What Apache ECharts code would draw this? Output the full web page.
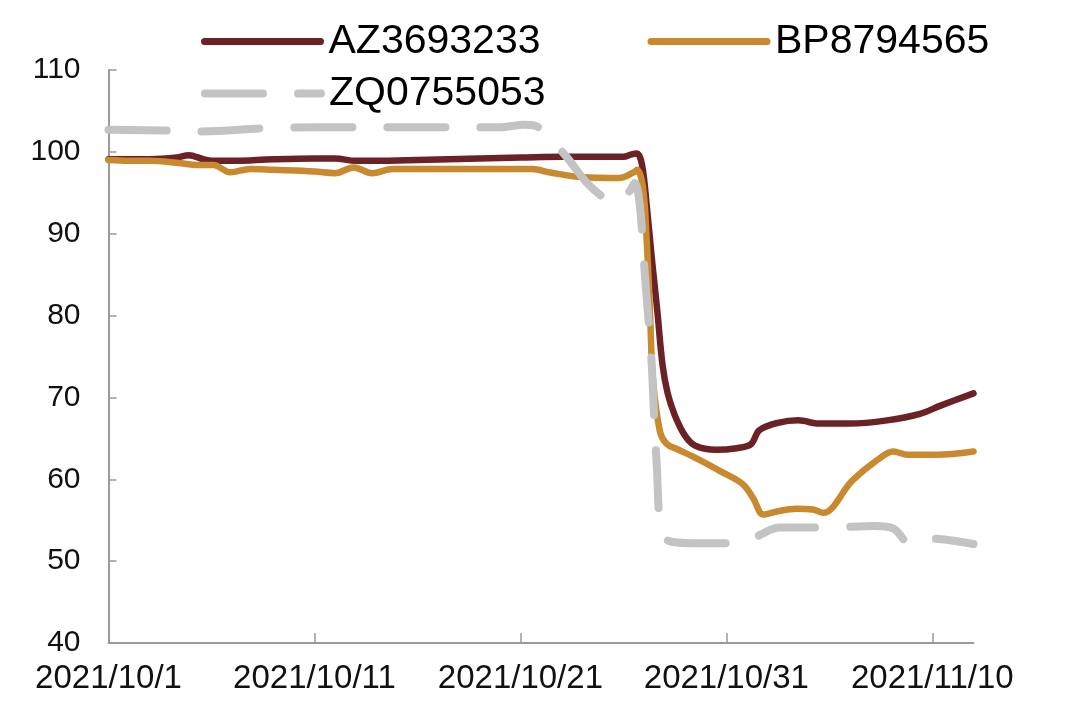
<!DOCTYPE html>
<html>
<head>
<meta charset="utf-8">
<script src="https://cdn.jsdelivr.net/npm/echarts@6/dist/echarts.min.js"></script>
<style>
html,body{margin:0;padding:0;background:#fff;}
#c{width:1080px;height:706px;}
</style>
</head>
<body>
<div id="c"></div>
<script>
// Days counted from 2021/10/1
var startDate = [2021, 10, 1];
var xTickDays = [0, 10, 20, 30, 40];
var seriesNames = ['AZ3693233', 'BP8794565', 'ZQ0755053'];

var azDays = [0, 2, 3.3, 3.9, 4.6, 5, 6, 8, 10, 11, 12, 13, 15, 18, 20, 22, 24, 25, 25.4, 25.65, 25.9, 26.15, 26.4, 26.65, 26.9, 27.15, 27.5, 28, 28.5, 29.5, 30.5, 31.2, 31.6, 32.5, 33.5, 34.5, 36, 37.8, 39.4, 40.4, 42];
var azValues = [99.1, 99.1, 99.3, 99.6, 99.1, 98.9, 98.9, 99.1, 99.2, 99.2, 98.9, 98.9, 99.0, 99.2, 99.3, 99.4, 99.4, 99.4, 99.7, 99.8, 98.5, 93.0, 86.5, 80.5, 74.0, 70.5, 67.8, 65.3, 64.1, 63.6, 63.8, 64.3, 66.0, 66.9, 67.2, 66.8, 66.8, 67.2, 68.0, 69.0, 70.5];

var bpDays = [0, 1, 2, 3.5, 4.3, 5.1, 5.9, 6.9, 8, 10, 11, 11.9, 12.8, 13.8, 16, 20, 20.6, 21.4, 23, 24.8, 25.5, 25.66, 25.95, 26.14, 26.29, 26.43, 26.77, 27.11, 27.6, 28.6, 29.7, 30.8, 31.3, 31.8, 32.5, 33.4, 34.2, 34.7, 36.1, 37.3, 38.1, 38.8, 40.2, 42];
var bpValues = [99.0, 98.9, 98.9, 98.6, 98.4, 98.4, 97.5, 97.9, 97.8, 97.6, 97.4, 98.1, 97.4, 97.9, 97.9, 97.9, 97.9, 97.5, 96.9, 96.8, 97.5, 97.8, 95.7, 88.8, 80.6, 72.4, 65.9, 64.3, 63.7, 62.5, 61.0, 59.4, 57.7, 55.7, 56.1, 56.4, 56.3, 55.9, 59.8, 62.3, 63.4, 63.0, 63.0, 63.4];

var zqDays = [0, 3, 4.4, 7.7, 10, 15, 19, 20.2, 20.7, 21.2, 22.3, 23.2, 24.2, 24.6, 25.3, 25.55, 25.75, 25.95, 26.05, 26.3, 26.4, 26.53, 26.63, 26.77, 27, 27.5, 28.3, 30, 31.1, 31.7, 32.6, 35, 37.2, 38.1, 38.9, 39.7, 42];
var zqValues = [102.7, 102.6, 102.5, 102.9, 103.0, 103.0, 103.0, 103.3, 103.2, 102.3, 99.2, 96.3, 94.1, 93.8, 95.2, 96.2, 94.5, 88.8, 84.7, 77.0, 72.9, 65.6, 61.3, 54.5, 52.8, 52.3, 52.2, 52.2, 52.4, 53.3, 54.1, 54.1, 54.3, 54.0, 52.2, 52.8, 52.1];

function pairs(xs, ys) {
  return xs.map(function (x, i) { return [x, ys[i]]; });
}
function dayLabel(v) {
  var d = new Date(startDate[0], startDate[1] - 1, startDate[2] + v);
  return d.getFullYear() + '/' + (d.getMonth() + 1) + '/' + d.getDate();
}

var FONT = '"Liberation Sans", Arial, sans-serif';
var chart = echarts.init(document.getElementById('c'), null, {renderer: 'canvas'});
var axisColor = '#9a9a9a';
var hiddenSymbol = {color: 'rgba(0,0,0,0)', borderWidth: 0, opacity: 0};

chart.setOption({
  animation: false,
  backgroundColor: '#ffffff',
  textStyle: {fontFamily: FONT},
  legend: [
    {
      data: [seriesNames[0], seriesNames[1]],
      left: 201, top: 21, padding: 0,
      orient: 'horizontal',
      itemWidth: 116, itemHeight: 20, itemGap: 107,
      itemStyle: hiddenSymbol,
      lineStyle: {width: 7},
      textStyle: {fontSize: 41, color: '#000', fontFamily: FONT, padding: [0, 0, 0, 3]}
    },
    {
      data: [seriesNames[2]],
      left: 201, top: 73, padding: 0,
      orient: 'horizontal',
      itemWidth: 116, itemHeight: 20,
      itemStyle: hiddenSymbol,
      lineStyle: {width: 8},
      textStyle: {fontSize: 41, color: '#000', fontFamily: FONT, padding: [0, 0, 0, 3]}
    }
  ],
  grid: {left: 108.5, right: 106.5, top: 70, bottom: 63, containLabel: false},
  xAxis: {
    type: 'value',
    min: 0, max: 42, interval: 10,
    splitLine: {show: false},
    axisLine: {lineStyle: {color: axisColor, width: 2}},
    axisTick: {show: true, inside: true, length: 10, customValues: xTickDays, lineStyle: {color: axisColor, width: 1.5}},
    axisLabel: {
      customValues: xTickDays,
      fontSize: 33, color: '#111', fontFamily: FONT, margin: 19,
      formatter: function (v) { return dayLabel(v); }
    }
  },
  yAxis: {
    type: 'value',
    min: 40, max: 110, interval: 10,
    splitLine: {show: false},
    axisLine: {show: true, lineStyle: {color: axisColor, width: 2}},
    axisTick: {show: true, inside: true, length: 8, lineStyle: {color: axisColor, width: 1.5}},
    axisLabel: {fontSize: 30, color: '#111', fontFamily: FONT, margin: 28}
  },
  series: [
    {
      name: seriesNames[0], type: 'line', symbol: 'none', smooth: 0.35,
      data: pairs(azDays, azValues),
      lineStyle: {color: '#6B2226', width: 6.5, cap: 'round', join: 'round'},
      itemStyle: {color: '#6B2226'}, z: 2
    },
    {
      name: seriesNames[1], type: 'line', symbol: 'none', smooth: 0.35,
      data: pairs(bpDays, bpValues),
      lineStyle: {color: '#C8892F', width: 6.5, cap: 'round', join: 'round'},
      itemStyle: {color: '#C8892F'}, z: 3
    },
    {
      name: seriesNames[2], type: 'line', symbol: 'none', smooth: 0.35,
      data: pairs(zqDays, zqValues),
      lineStyle: {color: '#C3C3C3', width: 8, type: [58, 35], cap: 'round', join: 'round'},
      itemStyle: {color: '#C3C3C3'}, z: 4
    }
  ]
});
</script>
</body>
</html>
